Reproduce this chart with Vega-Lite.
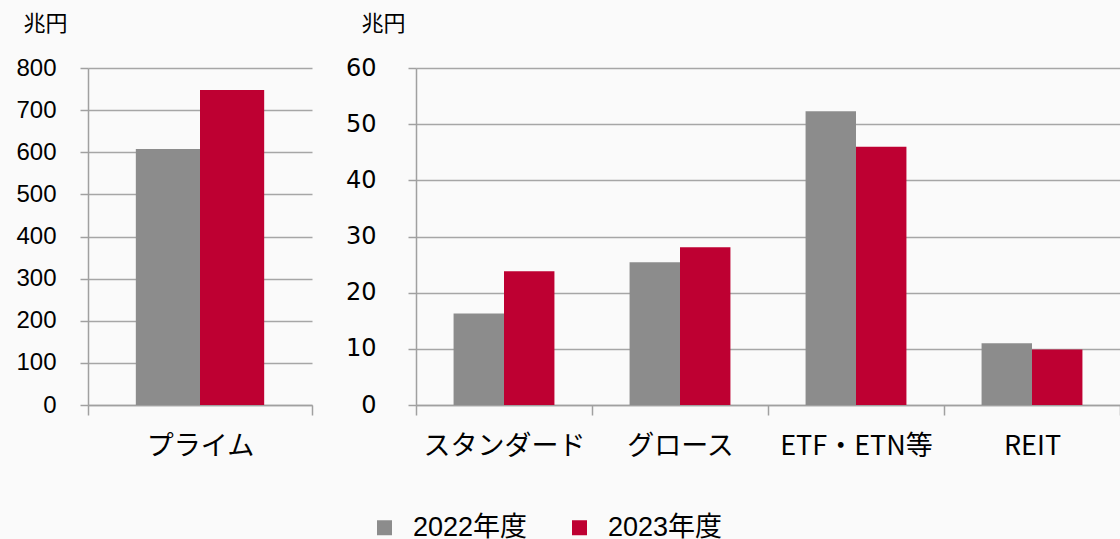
{
  "$schema": "https://vega.github.io/schema/vega-lite/v6.json",
  "background": "#fafafa",
  "padding": {"left": 15, "top": 12, "right": 0, "bottom": 0},
  "datasets": {
    "prime": [
      {"market": "プライム", "year": "2022年度", "value": 608},
      {"market": "プライム", "year": "2023年度", "value": 748}
    ],
    "other": [
      {"market": "スタンダード", "year": "2022年度", "value": 16.3},
      {"market": "スタンダード", "year": "2023年度", "value": 23.8},
      {"market": "グロース", "year": "2022年度", "value": 25.4},
      {"market": "グロース", "year": "2023年度", "value": 28.1},
      {"market": "ETF・ETN等", "year": "2022年度", "value": 52.3},
      {"market": "ETF・ETN等", "year": "2023年度", "value": 46.0},
      {"market": "REIT", "year": "2022年度", "value": 11.0},
      {"market": "REIT", "year": "2023年度", "value": 9.9}
    ]
  },
  "spacing": 32,
  "resolve": {"scale": {"y": "independent", "x": "independent", "xOffset": "independent", "color": "shared"}},
  "hconcat": [
    {
      "width": 224,
      "height": 337,
      "data": {"name": "prime"},
      "mark": {"type": "bar"},
      "encoding": {
        "x": {
          "field": "market", "type": "nominal", "sort": null,
          "scale": {"paddingInner": 0, "paddingOuter": 0},
          "axis": {"title": null, "labelAngle": 0, "tickBand": "extent", "tickSize": 10, "grid": false,
                   "labelFont": "Noto Sans CJK JP", "labelFontSize": 27, "labelPadding": 18, "labelBaseline": "top"}
        },
        "xOffset": {"field": "year", "type": "nominal", "sort": null, "scale": {"paddingInner": 0, "paddingOuter": 0.745}},
        "y": {
          "field": "value", "type": "quantitative",
          "scale": {"domain": [0, 800], "nice": false},
          "axis": {"values": [0, 100, 200, 300, 400, 500, 600, 700, 800], "tickSize": 8, "labelPadding": 24,
                   "labelFont": "Liberation Sans", "labelFontSize": 24,
                   "title": "兆円", "titleAngle": 0, "titleAlign": "left", "titleBaseline": "top", "titleX": -65, "titleY": -55}
        },
        "color": {
          "field": "year", "type": "nominal",
          "scale": {"domain": ["2022年度", "2023年度"], "range": ["#8c8c8c", "#be0032"]},
          "legend": {"orient": "none", "legendX": 283, "legendY": 446, "direction": "horizontal", "title": null}
        }
      }
    },
    {
      "width": 704,
      "height": 337,
      "data": {"name": "other"},
      "mark": {"type": "bar"},
      "encoding": {
        "x": {
          "field": "market", "type": "nominal", "sort": null,
          "scale": {"paddingInner": 0, "paddingOuter": 0},
          "axis": {"title": null, "labelAngle": 0, "tickBand": "extent", "tickSize": 10, "grid": false,
                   "labelFont": "Noto Sans CJK JP", "labelFontSize": 27, "labelPadding": 18, "labelBaseline": "top"}
        },
        "xOffset": {"field": "year", "type": "nominal", "sort": null, "scale": {"paddingInner": 0, "paddingOuter": 0.745}},
        "y": {
          "field": "value", "type": "quantitative",
          "scale": {"domain": [0, 60], "nice": false},
          "axis": {"values": [0, 10, 20, 30, 40, 50, 60], "tickSize": 8, "labelPadding": 32,
                   "labelFont": "DejaVu Sans", "labelFontSize": 24,
                   "title": "兆円", "titleAngle": 0, "titleAlign": "left", "titleBaseline": "top", "titleX": -55, "titleY": -55}
        },
        "color": {
          "field": "year", "type": "nominal",
          "scale": {"domain": ["2022年度", "2023年度"], "range": ["#8c8c8c", "#be0032"]},
          "legend": {"orient": "none", "legendX": 283, "legendY": 446, "direction": "horizontal", "title": null}
        }
      }
    }
  ],
  "config": {
    "view": {"stroke": null},
    "axis": {
      "domainColor": "#a0a0a0", "domainWidth": 1.5,
      "tickColor": "#a0a0a0", "tickWidth": 1.5,
      "gridColor": "#a6a6a6", "gridWidth": 1.5,
      "labelColor": "#000000",
      "titleFont": "Noto Sans CJK JP", "titleFontSize": 22, "titleFontWeight": "normal", "titleColor": "#000000"
    },
    "legend": {
      "symbolType": "square", "symbolSize": 225, "symbolStrokeWidth": 0, "symbolOpacity": 1,
      "labelFont": "Liberation Sans, Noto Sans CJK JP", "labelFontSize": 27, "labelColor": "#000000",
      "labelOffset": 15, "columnPadding": 38, "padding": 0
    }
  }
}
